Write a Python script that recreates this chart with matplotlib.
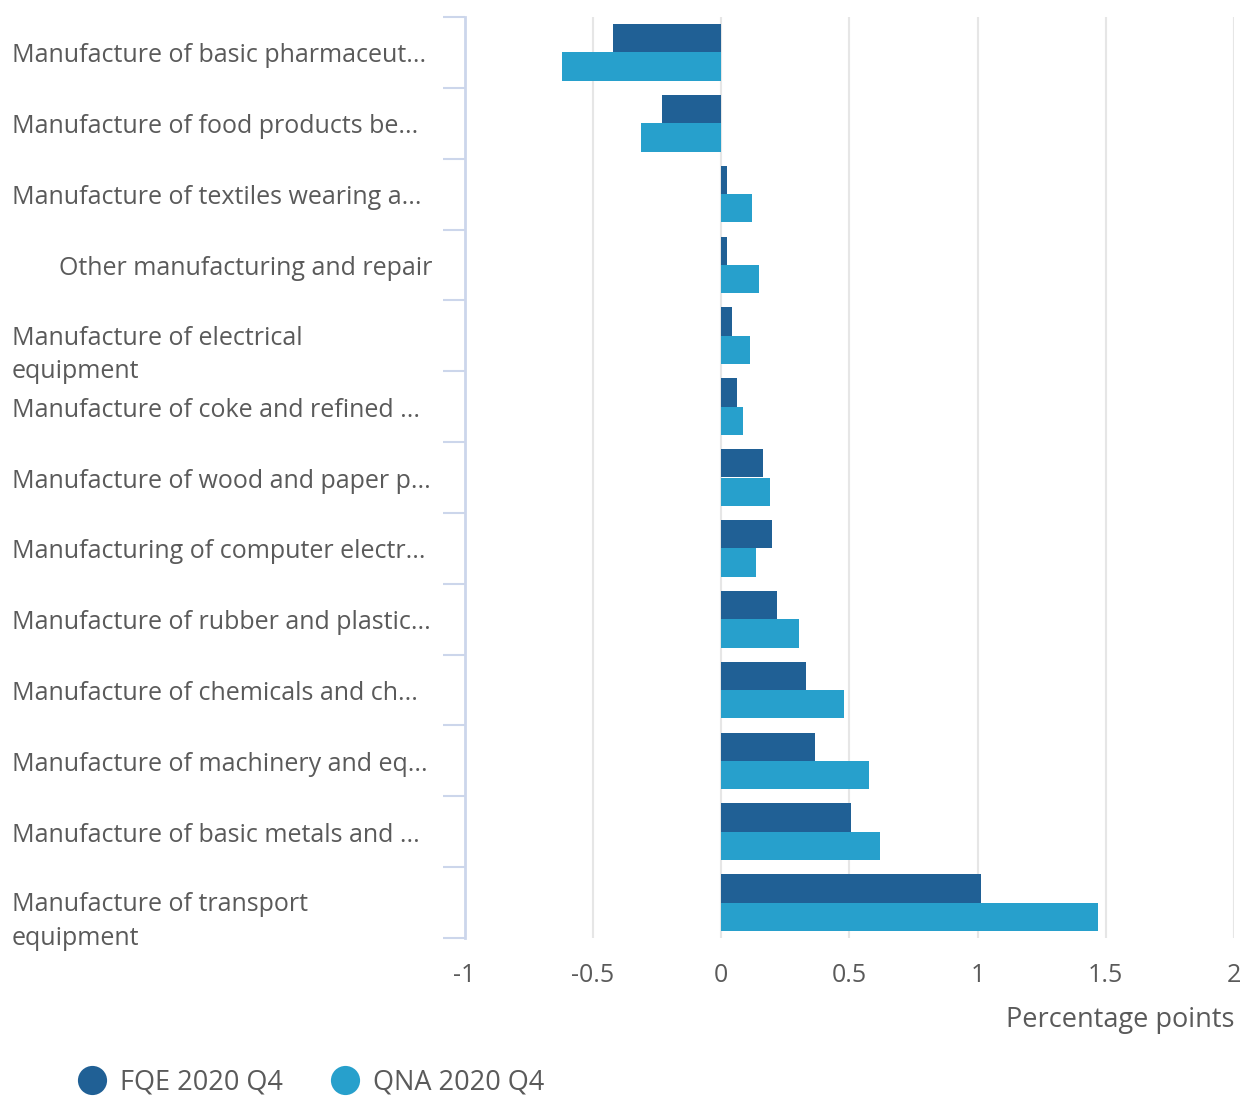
import matplotlib
matplotlib.use("Agg")
import matplotlib.pyplot as plt
from matplotlib.lines import Line2D
import matplotlib.transforms as mtrans
import numpy as np

categories = [
    "Manufacture of basic pharmaceut...",
    "Manufacture of food products be...",
    "Manufacture of textiles wearing a...",
    "Other manufacturing and repair",
    "Manufacture of electrical\nequipment",
    "Manufacture of coke and refined ...",
    "Manufacture of wood and paper p...",
    "Manufacturing of computer electr...",
    "Manufacture of rubber and plastic...",
    "Manufacture of chemicals and ch...",
    "Manufacture of machinery and eq...",
    "Manufacture of basic metals and ...",
    "Manufacture of transport\nequipment",
]
fqe = [-0.42, -0.23, 0.025, 0.025, 0.043, 0.062, 0.164, 0.199, 0.218, 0.331, 0.366, 0.507, 1.014]
qna = [-0.62, -0.31, 0.12, 0.148, 0.113, 0.086, 0.191, 0.136, 0.304, 0.48, 0.577, 0.62, 1.47]
series_names = ["FQE 2020 Q4", "QNA 2020 Q4"]
xticks = [-1, -0.5, 0, 0.5, 1, 1.5, 2]
xticklabels = ["-1", "-0.5", "0", "0.5", "1", "1.5", "2"]

c_fqe = "#206095"
c_qna = "#27a0cc"
txt = "#5a5a5a"
axis_c = "#ccd6eb"
grid_c = "#e6e6e6"

plt.rcParams['font.family'] = ['Open Sans', 'DejaVu Sans']

W, H = 1243, 1097
fig = plt.figure(figsize=(W/100, H/100), dpi=100)
ax = fig.add_axes([464.5/W, 1-938/H, (1234-464.5)/W, (938-17)/H])

y = np.arange(len(categories))
h = 0.4
ax.barh(y - h/2, fqe, height=h, color=c_fqe, zorder=3)
ax.barh(y + h/2, qna, height=h, color=c_qna, zorder=3)

ax.set_xlim(-1, 2)
ax.set_ylim(len(categories) - 0.5, -0.5)

ax.set_xticks(xticks)
ax.set_xticklabels(xticklabels, fontsize=18, color=txt)
ax.tick_params(axis='x', length=0, pad=18)
for xv in xticks[1:]:
    ax.axvline(xv, color=grid_c, lw=1.5, zorder=1)

ax.set_yticks(np.arange(len(categories) + 1) - 0.5)
ax.set_yticklabels([])
ax.tick_params(axis='y', length=16, width=1.5, color=axis_c)

for s in ["top", "right", "bottom"]:
    ax.spines[s].set_visible(False)
ax.spines["left"].set_color(axis_c)
ax.spines["left"].set_linewidth(2)

trans = mtrans.blended_transform_factory(fig.transFigure, ax.transData)
for i, lab in enumerate(categories):
    if "\n" in lab:
        ax.text(12/W, i + 0.27, lab, transform=trans, ha='left', va='center',
                fontsize=18, color=txt, linespacing=1.45)
    elif lab.endswith("..."):
        ax.text(12/W, i + 0.05, lab, transform=trans, ha='left', va='center',
                fontsize=18, color=txt)
    else:
        ax.text(432/W, i + 0.05, lab, transform=trans, ha='right', va='center',
                fontsize=18, color=txt)

fig.text(1234/W, 1-1020/H, "Percentage points", ha='right', va='center',
         fontsize=19.5, color=txt)

handles = [Line2D([], [], marker='o', linestyle='none', markersize=21, color=c, markeredgewidth=0)
           for c in (c_fqe, c_qna)]
fig.legend(handles, series_names, loc='center left', bbox_to_anchor=(76/W, 1-1082/H),
           ncol=2, frameon=False, fontsize=19.5, labelcolor=txt, handletextpad=0.44,
           columnspacing=1.68, handlelength=1.2, borderaxespad=0, borderpad=0)

fig.savefig("out.png", dpi=100)
